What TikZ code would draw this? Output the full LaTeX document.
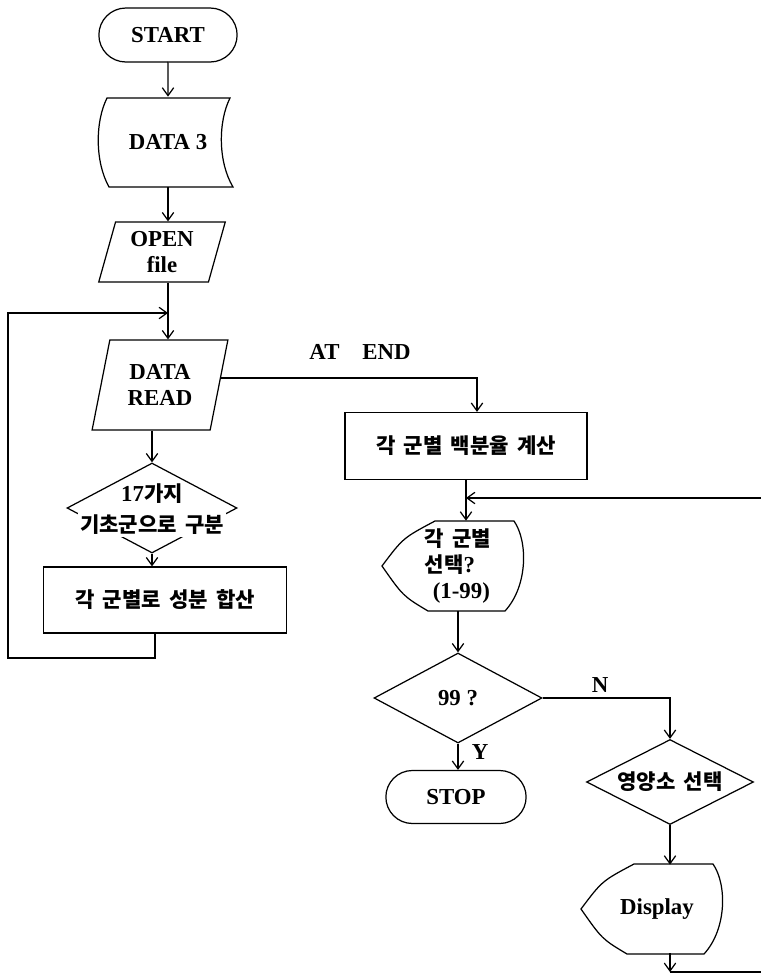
\documentclass[tikz,border=0pt]{standalone}
\usepackage{fontspec}
\setmainfont{Liberation Serif}
\newfontfamily\kr{Noto Sans CJK KR}[WordSpace=1.7]
\def\ko{\kr\fontsize{12}{14}\selectfont}
\usetikzlibrary{shapes.geometric, shapes.misc, arrows.meta, positioning, calc}
% outlines drawn round plain nodes (pixel units of the picture)
\def\tapeshape#1{\draw[outline,shift={(#1.center)}] (-61,-44) -- (62,-44) .. controls (50,-20) and (50,20) .. (65,45) -- (-59,45) .. controls (-73,20) and (-73,-20) .. (-61,-44) -- cycle;}
\def\dispshape#1{\draw[outline,shift={(#1.center)}] (-76,0) .. controls (-55,-28) .. (-23,-45) -- (56,-45) .. controls (70,-25) and (70,20) .. (47,45) -- (-30,45) .. controls (-55,30) .. (-76,0) -- cycle;}

\begin{document}
\begin{tikzpicture}[x=0.02cm, y=-0.02cm,
    every node/.style={font=\bfseries\fontsize{13}{15}\selectfont},
    terminal/.style={draw, rounded rectangle, line width=0.7pt, minimum width=3cm, minimum height=1.08cm},
    process/.style={draw, rectangle, line width=0.7pt, minimum width=4.85cm, minimum height=1.32cm},
    inout/.style={draw, trapezium, trapezium left angle=75, trapezium right angle=105, trapezium stretches=true, line width=0.7pt, align=center, inner sep=1pt},
    decision/.style={draw, diamond, aspect=2, line width=0.7pt, inner sep=1pt},
    outline/.style={line width=0.7pt},
    flowarrow/.style={-{Straight Barb[length=4.5pt,width=6.5pt]}, line width=0.7pt},
    flowline/.style={line width=0.7pt}
]
    \useasboundingbox (0,0) rectangle (761,975);

    % left column
    \node[terminal] (start) at (168,35) {START};
    \node[minimum width=2.6cm, minimum height=1.8cm] (data3) at (168,142) {DATA 3};
    \tapeshape{data3}
    \node[inout, minimum width=2.54cm, minimum height=1.2cm] (openf) at (162,252) {OPEN\\file};
    \node[inout, minimum width=2.72cm, minimum height=1.8cm] (dread) at (160,385) {DATA\\READ};
    \node[decision, minimum width=3.4cm, minimum height=1.8cm] (split) at (152,508) {};
    \node (split1) at (152,494) {17{\ko 가지}};
    \node[fill=white, inner sep=1pt] (split2) at (152,525) {\ko 기초군으로 구분};
    \node[process] (sum) at (165,600) {\ko 각 군별로 성분 합산};

    % right part
    \node (atend) at (360,352) {AT\quad END};
    \node[process, minimum width=4.84cm, minimum height=1.34cm] (pct) at (466,446) {\ko 각 군별 백분율 계산};
    \node[minimum width=2.8cm, minimum height=1.8cm, align=left] (choose) at (458,566) {{\ko 각 군별}\\{\ko 선택}?\\\hspace*{0.16cm}(1-99)};
    \dispshape{choose}
    \node[decision, minimum width=3.36cm, minimum height=1.8cm] (q99) at (458,698) {99 ?};
    \node[terminal, minimum width=3.04cm, minimum height=1.06cm] (stop) at (456,797) {STOP};
    \node[decision, minimum width=3.34cm, minimum height=1.7cm] (nutri) at (670,782) {\ko 영양소 선택};
    \node[minimum width=2.8cm, minimum height=1.76cm] (disp) at (657,909) {Display};
    \dispshape{disp}
    \node (yes) at (480,752) {Y};
    \node (no) at (600,685) {N};

    \coordinate (merge) at (168,313);
    \coordinate (loopcorner) at (8,658);
    \coordinate (ret) at (466,498);
    \coordinate (backR) at (761,498);
    \coordinate (dispout) at (670,972);
    \coordinate (dispR) at (761,972);

    \draw[flowarrow] (start) -- (data3.south |- start.south) -- (data3.north);
    \draw[flowarrow] (data3.south) -- (data3.south |- openf.north);
    \draw[flowarrow] (data3.south |- openf.south) -- (data3.south |- dread.north);
    \draw[flowarrow] ([xshift=-0.2cm]sum.south) |- (loopcorner) |- (merge);
    \draw[flowarrow] (split2.south |- dread.south) -- (split.north);
    \draw[flowarrow] (split.south) -- (split.south |- sum.north);
    \draw[flowarrow] ([yshift=0.14cm]dread.east) -| ([xshift=0.22cm]pct.north);
    \draw[flowarrow] (pct.south) -- (pct.south |- choose.north);
    \draw[flowarrow] (backR) -- (ret);
    \draw[flowarrow] (choose.south) -- (q99.north);
    \draw[flowarrow] (q99.south) -- (q99.south |- stop.north);
    \draw[flowarrow] (q99.east) -| (nutri.north);
    \draw[flowarrow] (nutri.south) -- (nutri.south |- disp.north);
    \draw[flowarrow] (nutri.south |- disp.south) -- (dispout);
    \draw[flowline] (dispout) -- (dispR);
\end{tikzpicture}
\end{document}
